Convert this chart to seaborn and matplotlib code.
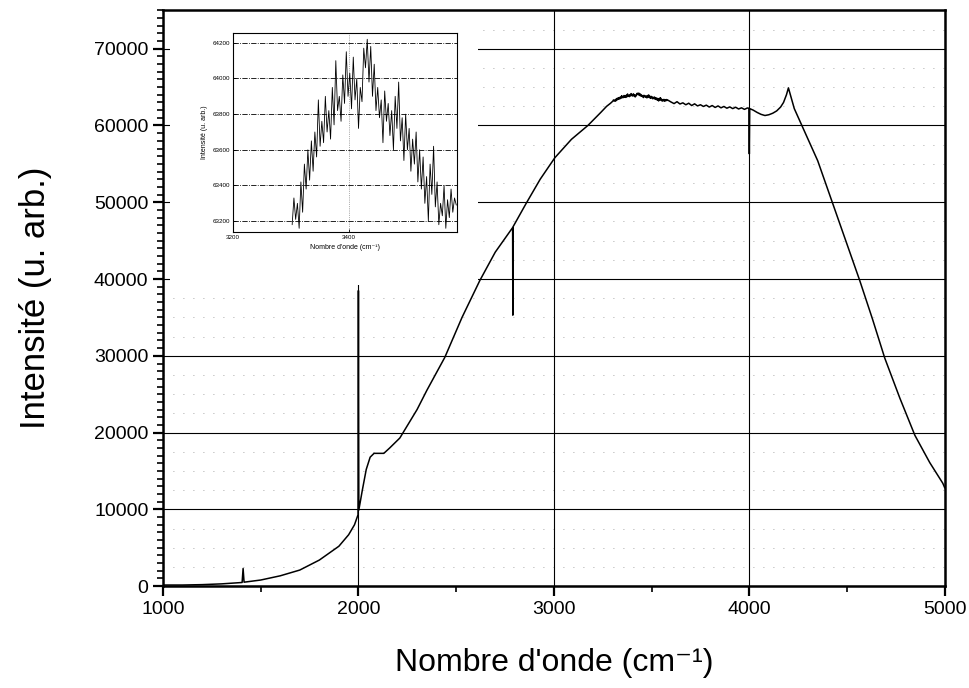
import numpy as np
import pandas as pd
import matplotlib.pyplot as plt
from matplotlib.patches import Rectangle
from matplotlib.ticker import MultipleLocator
import seaborn as sns

sns.set_style("ticks", {"axes.edgecolor": "black", "text.color": "black",
                        "axes.labelcolor": "black", "xtick.color": "black",
                        "ytick.color": "black"})
plt.rcParams['font.family'] = ['Liberation Sans', 'DejaVu Sans']

# ── Data ────────────────────────────────────────────────────────────────────
# rising edge, spikes at 1410, 2000 and 2790 cm-1
wn_low = [1000, 1100, 1200, 1300, 1405, 1410, 1415, 1500, 1600, 1700, 1800,
          1900, 1950, 1980, 1998, 2000, 2002, 2020, 2040, 2060, 2080, 2100,
          2130, 2160, 2212, 2300, 2350, 2442, 2530, 2621, 2700, 2789, 2790,
          2791, 2857, 2930, 3005, 3090, 3174, 3240, 3270, 3290]
int_low = [150, 150, 200, 300, 480, 2300, 520, 800, 1350, 2100, 3400,
           5200, 6700, 8000, 9300, 38500, 9900, 12500, 15200, 16800, 17300, 17300,
           17300, 18000, 19300, 23000, 25500, 29800, 35000, 39800, 43500, 46700, 35300,
           46800, 49800, 53000, 55800, 58200, 60000, 61700, 62500, 62900]

# plateau detail (also shown in the inset)
wn_mid = [3302, 3305, 3308, 3311, 3314, 3317, 3320, 3323, 3326, 3329,
          3332, 3335, 3338, 3341, 3344, 3347, 3350, 3353, 3356, 3359,
          3362, 3365, 3368, 3371, 3374, 3377, 3380, 3383, 3386, 3389,
          3392, 3395, 3398, 3401, 3404, 3407, 3410, 3413, 3416, 3419,
          3422, 3425, 3428, 3431, 3434, 3437, 3440, 3443, 3446, 3449,
          3452, 3455, 3458, 3461, 3464, 3467, 3470, 3473, 3476, 3479,
          3482, 3485, 3488, 3491, 3494, 3497, 3500, 3503, 3506, 3509,
          3512, 3515, 3518, 3521, 3524, 3527, 3530, 3533, 3536, 3539,
          3542, 3545, 3548, 3551, 3554, 3557, 3560, 3563, 3566, 3569,
          3572, 3575, 3578, 3581, 3584]
int_mid = [63180, 63330, 63210, 63300, 63160, 63420, 63250, 63520, 63380, 63600,
           63430, 63650, 63480, 63700, 63560, 63880, 63620, 63760, 63640, 63900,
           63700, 63820, 63660, 63950, 63740, 64100, 63820, 63900, 63760, 64020,
           63860, 64150, 63900, 64030, 63830, 64120, 63880, 64000, 63720, 63950,
           63870, 64170, 64060, 64220, 63980, 64180, 63900, 64080, 63820, 63950,
           63780, 63880, 63640, 63930, 63760, 63860, 63680, 63820, 63600, 63900,
           63720, 63980, 63650, 63780, 63540, 63800, 63600, 63720, 63480, 63660,
           63520, 63700, 63420, 63600, 63380, 63560, 63300, 63450, 63200, 63520,
           63350, 63620, 63280, 63420, 63180, 63300, 63230, 63400, 63160, 63320,
           63220, 63380, 63250, 63330, 63290]

# end of plateau, dip at 4000, peak at 4200 and falling edge
wn_high = [3600, 3615, 3630, 3645, 3660, 3675, 3690, 3705, 3720, 3735,
           3750, 3765, 3780, 3795, 3810, 3825, 3840, 3855, 3870, 3885,
           3900, 3915, 3930, 3945, 3960, 3975, 3990, 3998, 4000, 4002,
           4020, 4040, 4060, 4080, 4100, 4120, 4140, 4160, 4175, 4190,
           4200, 4230, 4274, 4350, 4427, 4500, 4565, 4630, 4693, 4770,
           4847, 4923, 4990, 5000]
int_high = [63050, 62850, 63100, 62800, 62950, 62700, 62900, 62600, 62820, 62550,
            62700, 62480, 62650, 62400, 62600, 62350, 62550, 62300, 62480, 62250,
            62420, 62200, 62380, 62150, 62300, 62100, 62280, 62250, 56300, 62200,
            62000, 61700, 61450, 61300, 61400, 61600, 61900, 62400, 63000, 64000,
            64900, 62200, 59700, 55400, 49800, 44500, 39800, 34800, 29700, 24500,
            19650, 16100, 13400, 12800]

df = pd.DataFrame({"wn": wn_low + wn_mid + wn_high,
                   "I": int_low + int_mid + int_high})
df_inset = pd.DataFrame({"wn": wn_mid, "I": int_mid})

# ── Main plot ───────────────────────────────────────────────────────────────
fig = plt.figure(figsize=(9.7, 6.88), dpi=100)
ax = fig.add_axes([0.168, 0.148, 0.806, 0.837])

sns.lineplot(data=df, x="wn", y="I", ax=ax, color="black", lw=1.1,
             estimator=None, sort=False, zorder=3)

ax.set_xlim(1000, 5000)
ax.set_ylim(0, 75000)
ax.xaxis.set_major_locator(MultipleLocator(1000))
ax.xaxis.set_minor_locator(MultipleLocator(500))
ax.yaxis.set_minor_locator(MultipleLocator(1000))
ax.set_yticks(range(0, 70001, 10000))
ax.tick_params(which="major", direction="out", length=7, width=1.6, labelsize=14)
ax.tick_params(which="minor", direction="out", length=4, width=1.2)

ax.grid(which="major", color="black", lw=0.8)
ax.set_axisbelow(True)
# faint dotted rows left over from the scanned dotted grid
for yd in range(2500, 75000, 2500):
    ax.axhline(yd, color="0.55", lw=0.6, linestyle=(0, (1, 11)), zorder=0.4)
for s in ax.spines.values():
    s.set_linewidth(1.8)

ax.set_xlabel("Nombre d'onde (cm\u207b\u00b9)", fontsize=23, labelpad=22)
ax.set_ylabel("Intensité (u. arb.)", fontsize=25, labelpad=30)

# white area behind the inset hides the main grid there
ax.add_patch(Rectangle((0.009, 0.523), 0.394, 0.477, transform=ax.transAxes,
                       facecolor="white", edgecolor="none", zorder=2))

# ── Inset ───────────────────────────────────────────────────────────────────
axi = fig.add_axes([0.240, 0.663, 0.231, 0.289])
sns.lineplot(data=df_inset, x="wn", y="I", ax=axi, color="black", lw=0.6,
             estimator=None, sort=False)
axi.set_xlim(3200, 3585)
axi.set_ylim(63140, 64255)
axi.set_xticks([3200, 3400])
axi.set_yticks(range(63200, 64201, 200))
axi.tick_params(direction="in", length=2, width=0.6, labelsize=4.5, pad=2)
axi.grid(axis="y", color="black", lw=0.6, linestyle="-.")
axi.grid(axis="x", color="0.4", lw=0.5, linestyle=":")
for s in axi.spines.values():
    s.set_linewidth(0.8)
axi.set_xlabel("Nombre d'onde (cm\u207b\u00b9)", fontsize=5, labelpad=3)
axi.set_ylabel("Intensité (u. arb.)", fontsize=5, labelpad=3)

plt.savefig("out.png", dpi=100)
